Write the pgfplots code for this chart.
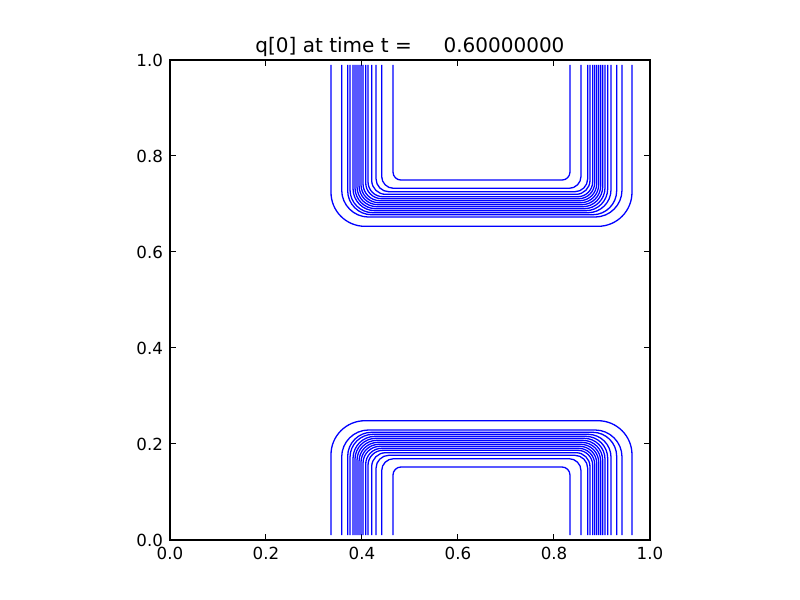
\documentclass[border=0pt]{standalone}
\usepackage{fontspec}
\setmainfont{DejaVu Sans}
\usepackage{pgfplots}
\pgfplotsset{compat=1.18}
\definecolor{mblue}{RGB}{0,0,255}
\tikzset{cont/.style={color=mblue, line width=0.65pt, mark=none}}
\begin{document}
\begin{tikzpicture}
\path[use as bounding box] (-85pt,-30pt) rectangle (315pt,270pt);
\begin{axis}[
  at={(0pt,0pt)}, anchor=south west,
  width=240pt, height=240pt, scale only axis,
  xmin=0, xmax=1, ymin=0, ymax=1,
  xtick={0,0.2,0.4,0.6,0.8,1}, ytick={0,0.2,0.4,0.6,0.8,1},
  tick align=inside, major tick length=2.8pt, minor tick num=0,
  axis line style={line width=0.55pt},
  every tick/.style={black, line width=0.5pt},
  tick label style={font=\fontsize{8.33pt}{10pt}\selectfont},
  /pgf/number format/assume math mode=true,
  xticklabel style={/pgf/number format/.cd, fixed, fixed zerofill, precision=1},
  yticklabel style={/pgf/number format/.cd, fixed, fixed zerofill, precision=1},
  scaled ticks=false,
  title={q[0] at time t =\hspace*{1.59em}0.60000000},
  every axis title/.style={font=\fontsize{10pt}{12pt}\selectfont, at={(0.5,1)}, anchor=base, yshift=3.5pt},
]
% top set
\addplot[cont, rounded corners=17pt] coordinates {(0.3354,0.99) (0.3354,0.6535) (0.9625,0.6535) (0.9625,0.99)};
\addplot[cont, rounded corners=13.5pt] coordinates {(0.3577,0.99) (0.3577,0.6728) (0.9417,0.6728) (0.9417,0.99)};
\addplot[cont, rounded corners=12pt] coordinates {(0.3702,0.99) (0.3702,0.6776) (0.9306,0.6776) (0.9306,0.99)};
\addplot[cont, rounded corners=11.5pt] coordinates {(0.3750,0.99) (0.3750,0.6818) (0.9188,0.6818) (0.9188,0.99)};
\addplot[cont, rounded corners=11pt] coordinates {(0.3813,0.99) (0.3813,0.6860) (0.9119,0.6860) (0.9119,0.99)};
\addplot[cont, rounded corners=10.5pt] coordinates {(0.3854,0.99) (0.3854,0.6901) (0.9063,0.6901) (0.9063,0.99)};
\addplot[cont, rounded corners=10pt] coordinates {(0.3896,0.99) (0.3896,0.6943) (0.9015,0.6943) (0.9015,0.99)};
\addplot[cont, rounded corners=9.5pt] coordinates {(0.3938,0.99) (0.3938,0.6985) (0.8973,0.6985) (0.8973,0.99)};
\addplot[cont, rounded corners=9pt] coordinates {(0.3979,0.99) (0.3979,0.7026) (0.8931,0.7026) (0.8931,0.99)};
\addplot[cont, rounded corners=8.5pt] coordinates {(0.4021,0.99) (0.4021,0.7068) (0.8890,0.7068) (0.8890,0.99)};
\addplot[cont, rounded corners=8pt] coordinates {(0.4077,0.99) (0.4077,0.7110) (0.8848,0.7110) (0.8848,0.99)};
\addplot[cont, rounded corners=7.5pt] coordinates {(0.4125,0.99) (0.4125,0.7151) (0.8806,0.7151) (0.8806,0.99)};
\addplot[cont, rounded corners=7pt] coordinates {(0.4202,0.99) (0.4202,0.7201) (0.8750,0.7201) (0.8750,0.99)};
\addplot[cont, rounded corners=6.5pt] coordinates {(0.4292,0.99) (0.4292,0.7255) (0.8702,0.7255) (0.8702,0.99)};
\addplot[cont, rounded corners=6pt] coordinates {(0.4410,0.99) (0.4410,0.7326) (0.8563,0.7326) (0.8563,0.99)};
\addplot[cont, rounded corners=4pt] coordinates {(0.4646,0.99) (0.4646,0.7499) (0.8333,0.7499) (0.8333,0.99)};
% bottom set
\addplot[cont, rounded corners=17pt] coordinates {(0.3354,0.01) (0.3354,0.2485) (0.9625,0.2485) (0.9625,0.01)};
\addplot[cont, rounded corners=13.5pt] coordinates {(0.3577,0.01) (0.3577,0.2292) (0.9417,0.2292) (0.9417,0.01)};
\addplot[cont, rounded corners=12pt] coordinates {(0.3702,0.01) (0.3702,0.2244) (0.9306,0.2244) (0.9306,0.01)};
\addplot[cont, rounded corners=11.5pt] coordinates {(0.3750,0.01) (0.3750,0.2202) (0.9188,0.2202) (0.9188,0.01)};
\addplot[cont, rounded corners=11pt] coordinates {(0.3813,0.01) (0.3813,0.2160) (0.9119,0.2160) (0.9119,0.01)};
\addplot[cont, rounded corners=10.5pt] coordinates {(0.3854,0.01) (0.3854,0.2119) (0.9063,0.2119) (0.9063,0.01)};
\addplot[cont, rounded corners=10pt] coordinates {(0.3896,0.01) (0.3896,0.2077) (0.9015,0.2077) (0.9015,0.01)};
\addplot[cont, rounded corners=9.5pt] coordinates {(0.3938,0.01) (0.3938,0.2035) (0.8973,0.2035) (0.8973,0.01)};
\addplot[cont, rounded corners=9pt] coordinates {(0.3979,0.01) (0.3979,0.1994) (0.8931,0.1994) (0.8931,0.01)};
\addplot[cont, rounded corners=8.5pt] coordinates {(0.4021,0.01) (0.4021,0.1952) (0.8890,0.1952) (0.8890,0.01)};
\addplot[cont, rounded corners=8pt] coordinates {(0.4077,0.01) (0.4077,0.1910) (0.8848,0.1910) (0.8848,0.01)};
\addplot[cont, rounded corners=7.5pt] coordinates {(0.4125,0.01) (0.4125,0.1869) (0.8806,0.1869) (0.8806,0.01)};
\addplot[cont, rounded corners=7pt] coordinates {(0.4202,0.01) (0.4202,0.1819) (0.8750,0.1819) (0.8750,0.01)};
\addplot[cont, rounded corners=6.5pt] coordinates {(0.4292,0.01) (0.4292,0.1765) (0.8702,0.1765) (0.8702,0.01)};
\addplot[cont, rounded corners=6pt] coordinates {(0.4410,0.01) (0.4410,0.1694) (0.8563,0.1694) (0.8563,0.01)};
\addplot[cont, rounded corners=4pt] coordinates {(0.4646,0.01) (0.4646,0.1521) (0.8333,0.1521) (0.8333,0.01)};
\end{axis}
\end{tikzpicture}
\end{document}
